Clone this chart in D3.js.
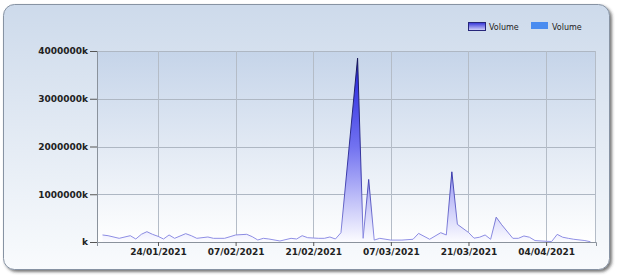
<!DOCTYPE html>
<html>
<head>
<meta charset="utf-8">
<script src="https://cdn.jsdelivr.net/npm/d3@7"></script>
<style>
  html, body { margin: 0; padding: 0; background: #fff; }
  svg { display: block; font-family: "DejaVu Sans", sans-serif; }
</style>
</head>
<body>
<svg id="chart" width="624" height="280"></svg>
<script>
'use strict'

// volume per day, in k
const dates = [
  '2021-01-14', '2021-01-15', '2021-01-17', '2021-01-19', '2021-01-20', '2021-01-21',
  '2021-01-22', '2021-01-23', '2021-01-24', '2021-01-25', '2021-01-26', '2021-01-27',
  '2021-01-29', '2021-01-30', '2021-01-31', '2021-02-02', '2021-02-03', '2021-02-05',
  '2021-02-06', '2021-02-07', '2021-02-09', '2021-02-10', '2021-02-11', '2021-02-12',
  '2021-02-13', '2021-02-15', '2021-02-17', '2021-02-18', '2021-02-19', '2021-02-20',
  '2021-02-22', '2021-02-23', '2021-02-24', '2021-02-25', '2021-02-26', '2021-03-01',
  '2021-03-02', '2021-03-03', '2021-03-04', '2021-03-05', '2021-03-07', '2021-03-09',
  '2021-03-11', '2021-03-12', '2021-03-14', '2021-03-16', '2021-03-17', '2021-03-18',
  '2021-03-19', '2021-03-21', '2021-03-22', '2021-03-23', '2021-03-24', '2021-03-25',
  '2021-03-26', '2021-03-27', '2021-03-29', '2021-03-30', '2021-03-31', '2021-04-01',
  '2021-04-02', '2021-04-04', '2021-04-05', '2021-04-06', '2021-04-07', '2021-04-08',
  '2021-04-09', '2021-04-11', '2021-04-12'
]
const volumes = [
  147000, 132000, 77000, 132000, 63000, 161000,
  216000, 161000, 119000, 63000, 147000, 77000,
  175000, 132000, 77000, 105000, 77000, 77000,
  111000, 147000, 161000, 111000, 42000, 77000,
  63000, 21000, 77000, 63000, 132000, 90000,
  77000, 77000, 105000, 63000, 195000, 3850000,
  77000, 1310000, 40000, 77000, 40000, 40000,
  57000, 180000, 57000, 195000, 147000, 1470000,
  370000, 200000, 80000, 100000, 147000, 57000,
  520000, 360000, 77000, 77000, 126000, 100000,
  30000, 15000, 10000, 160000, 100000, 77000,
  57000, 30000, 5000
]
const xDomain = ['2021-01-13', '2021-04-13']
const xTicks = ['2021-01-24', '2021-02-07', '2021-02-21', '2021-03-07', '2021-03-21', '2021-04-04']
const yTicks = [0, 1000000, 2000000, 3000000, 4000000]
const legendItems = ['Volume', 'Volume']

const parse = d3.timeParse('%Y-%m-%d')
const data = dates.map((d, i) => ({ date: parse(d), value: volumes[i] }))

const width = 624
const height = 280
const margin = { top: 51, right: 28, bottom: 38, left: 97 }
const plotW = width - margin.left - margin.right
const plotH = height - margin.top - margin.bottom

const svg = d3.select('#chart')
const defs = svg.append('defs')

// gradients (user space ones are in the plot group's coordinates)
function vGrad (id, stops, y1, y2) {
  const g = defs.append('linearGradient').attr('id', id)
    .attr('x1', 0).attr('x2', 0)
  if (y1 !== undefined) {
    g.attr('gradientUnits', 'userSpaceOnUse').attr('y1', y1).attr('y2', y2)
  } else {
    g.attr('y1', 0).attr('y2', 1)
  }
  stops.forEach(s => g.append('stop').attr('offset', s[0]).attr('stop-color', s[1]))
}
vGrad('panelGrad', [[0, '#cddaeb'], [1, '#f9fbfd']])
vGrad('plotGrad', [[0, '#c5d4e9'], [1, '#ffffff']])
vGrad('areaGrad', [[0, '#1818dc'], [0.5, '#7272f0'], [0.8, '#c6c6f9'], [1, '#fcfcff']], 0, plotH)
vGrad('lineGrad', [[0, '#12124e'], [0.65, '#3c3cac'], [1, '#9494e8']], 0, plotH)
vGrad('legendGrad', [[0, '#3030d8'], [1, '#d8d8fa']])

const shadow = defs.append('filter').attr('id', 'shadow')
  .attr('x', '-5%').attr('y', '-5%').attr('width', '110%').attr('height', '115%')
shadow.append('feDropShadow').attr('dx', 2).attr('dy', 2).attr('stdDeviation', 1.4)
  .attr('flood-color', '#333').attr('flood-opacity', 0.65)

// panel
svg.append('rect')
  .attr('x', 3.5).attr('y', 4.5)
  .attr('width', 606).attr('height', 265)
  .attr('rx', 11)
  .attr('fill', 'url(#panelGrad)')
  .attr('stroke', '#8793a3')
  .attr('filter', 'url(#shadow)')

const g = svg.append('g').attr('transform', `translate(${margin.left},${margin.top})`)

const x = d3.scaleTime()
  .domain(xDomain.map(parse))
  .range([0, plotW])
const y = d3.scaleLinear()
  .domain([0, 4000000])
  .range([plotH, 0])

g.append('rect')
  .attr('width', plotW).attr('height', plotH)
  .attr('fill', 'url(#plotGrad)')

// grid
g.append('g').selectAll('line')
  .data(yTicks.slice(1))
  .join('line')
  .attr('x1', 0).attr('x2', plotW)
  .attr('y1', d => Math.round(y(d)) + 0.5).attr('y2', d => Math.round(y(d)) + 0.5)
  .attr('stroke', '#aeb7c3')

g.append('g').selectAll('line')
  .data(xTicks.map(parse))
  .join('line')
  .attr('x1', d => Math.round(x(d)) + 0.5).attr('x2', d => Math.round(x(d)) + 0.5)
  .attr('y1', 0).attr('y2', plotH)
  .attr('stroke', '#b4bcc7')

g.append('line')
  .attr('x1', plotW - 0.5).attr('x2', plotW - 0.5)
  .attr('y1', 0).attr('y2', plotH)
  .attr('stroke', '#b4bcc7')

// area + line
const area = d3.area()
  .x(d => x(d.date))
  .y0(y(0))
  .y1(d => y(d.value))
const line = d3.line()
  .x(d => x(d.date))
  .y(d => y(d.value))

g.append('path')
  .datum(data)
  .attr('d', area)
  .attr('fill', 'url(#areaGrad)')

g.append('path')
  .datum(data)
  .attr('d', line)
  .attr('fill', 'none')
  .attr('stroke', 'url(#lineGrad)')
  .attr('stroke-width', 1)

// axes
const yAxis = g.append('g')
  .call(d3.axisLeft(y).tickValues(yTicks).tickSize(7).tickPadding(2)
    .tickFormat(d => d === 0 ? 'k' : d + 'k'))
const xAxis = g.append('g')
  .attr('transform', `translate(0,${plotH})`)
  .call(d3.axisBottom(x).tickValues(xTicks.map(parse)).tickSize(4).tickPadding(3)
    .tickFormat(d3.timeFormat('%d/%m/%Y')))

;[yAxis, xAxis].forEach(a => {
  a.select('.domain').attr('stroke', '#8a929c')
  a.selectAll('.tick line').attr('stroke', '#555')
  a.selectAll('text')
    .attr('fill', '#222')
    .attr('font-size', 9)
    .attr('font-weight', 'bold')
    .attr('font-family', '"DejaVu Sans", sans-serif')
})

// legend
const legend = svg.append('g').attr('transform', 'translate(468,22)')
const item = legend.selectAll('g')
  .data(legendItems)
  .join('g')
  .attr('transform', (d, i) => `translate(${i * 63},0)`)
item.append('rect')
  .attr('x', (d, i) => i === 0 ? 0.5 : 0)
  .attr('y', (d, i) => i === 0 ? 0.5 : 0)
  .attr('width', 17)
  .attr('height', (d, i) => i === 0 ? 8 : 7)
  .attr('fill', (d, i) => i === 0 ? 'url(#legendGrad)' : '#4a8cf0')
  .attr('stroke', (d, i) => i === 0 ? '#26267a' : 'none')
item.append('text')
  .attr('x', 21)
  .attr('y', 7.5)
  .attr('font-size', 8)
  .attr('fill', '#222')
  .text(d => d)
</script>
</body>
</html>
